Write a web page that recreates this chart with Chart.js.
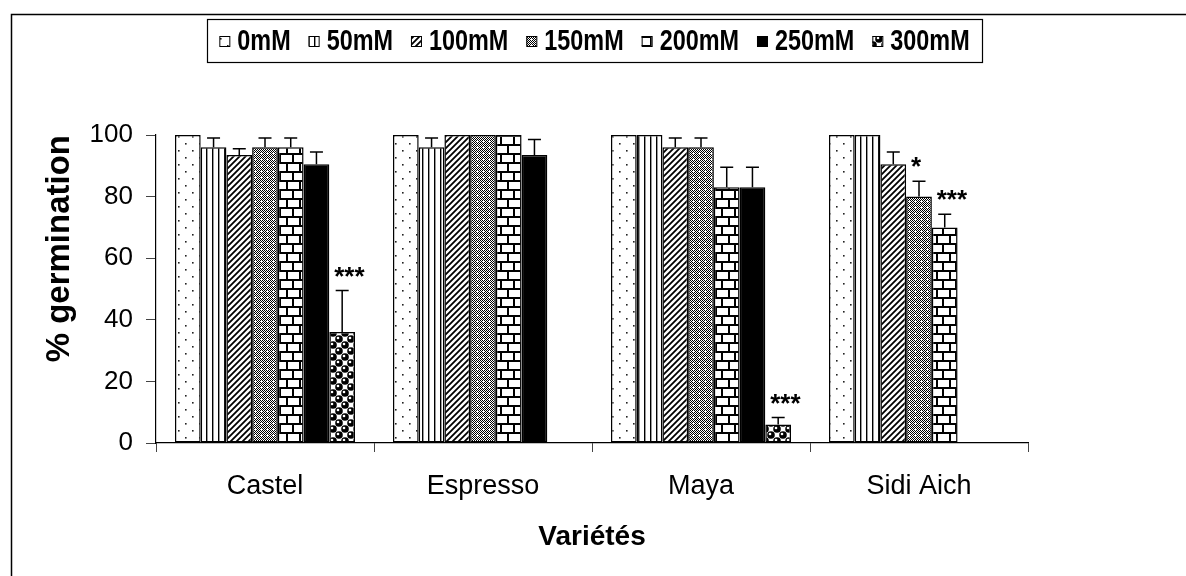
<!DOCTYPE html>
<html>
<head>
<meta charset="utf-8">
<script src="https://cdn.jsdelivr.net/npm/chart.js@4.4.0/dist/chart.umd.min.js"></script>
<style>
  html, body { margin: 0; padding: 0; background: #fff; }
</style>
</head>
<body>
<canvas id="grafico" width="1186" height="576"></canvas>
<script>
const varietes = ['Castel', 'Espresso', 'Maya', 'Sidi Aich'];
const doses = ['0mM', '50mM', '100mM', '150mM', '200mM', '250mM', '300mM'];

// % germination par dose (une valeur par variété)
const g0 = [100, 100, 100, 100];
const g50 = [96, 96, 100, 100];
const g100 = [93.5, 100, 96, 90.5];
const g150 = [96, 100, 96, 80];
const g200 = [96, 100, 83, 70];
const g250 = [90.5, 93.5, 83, 0];
const g300 = [36, 0, 6, 0];

// erreurs standard
const e0 = [0, 0, 0, 0];
const e50 = [3, 3, 0, 0];
const e100 = [2, 0, 3, 4];
const e150 = [3, 0, 3, 5];
const e200 = [3, 0, 6.5, 4.3];
const e250 = [4, 5, 6.5, 0];
const e300 = [13.5, 0, 2.3, 0];

// significativité
const s0 = ['', '', '', ''];
const s150 = ['', '', '', '*'];
const s200 = ['', '', '', '***'];
const s300 = ['***', '', '***', ''];

const police = '"Liberation Sans", Arial, sans-serif';
Chart.defaults.font.family = police;

function motif(l, h, dessin) {
  const c = document.createElement('canvas');
  c.width = l; c.height = h;
  const x = c.getContext('2d');
  x.fillStyle = '#fff';
  x.fillRect(0, 0, l, h);
  x.fillStyle = '#000';
  x.strokeStyle = '#000';
  dessin(x);
  return x.createPattern(c, 'repeat');
}

const points = motif(14, 14, x => {
  x.fillStyle = '#222';
  x.fillRect(3, 3, 1.6, 1.6);
  x.fillRect(10, 10, 1.6, 1.6);
});
const verticales = motif(6, 4, x => x.fillRect(2, 0, 1.4, 4));
const diagonales = motif(6, 6, x => {
  x.lineWidth = 1.8;
  x.beginPath();
  x.moveTo(-1, 7); x.lineTo(7, -1);
  x.moveTo(-1, 1); x.lineTo(1, -1);
  x.moveTo(5, 7); x.lineTo(7, 5);
  x.stroke();
});
const quadrille = motif(6, 6, x => {
  for (let i = 0; i < 6; i++) {
    for (let j = 0; j < 6; j++) {
      if ((i + j) % 2 === 0) x.fillRect(i, j, 1, 1);
    }
  }
  x.fillStyle = '#fff';
  x.fillRect(2, 3, 3, 1);
  x.fillRect(3, 2, 1, 3);
});
const briques = motif(26, 18, x => {
  x.fillRect(0, 0, 26, 2);
  x.fillRect(0, 9, 26, 2);
  x.fillRect(0, 0, 2, 9);
  x.fillRect(13, 0, 2, 9);
  x.fillRect(6, 9, 2, 9);
  x.fillRect(19, 9, 2, 9);
});
const billes = motif(12, 12, x => {
  [[3, 3], [9, 9], [15, 3], [-3, 9], [3, 15], [9, -3]].forEach(([a, b]) => {
    x.fillStyle = '#000';
    x.beginPath(); x.arc(a, b, 3.8, 0, Math.PI * 2); x.fill();
    x.fillStyle = '#fff';
    x.beginPath(); x.arc(a - 1, b - 1, 1.3, 0, Math.PI * 2); x.fill();
  });
});

const valeurs = [g0, g50, g100, g150, g200, g250, g300];
const erreurs = [e0, e50, e100, e150, e200, e250, e300];
const signifs = [s0, s0, s0, s150, s200, s0, s300];
const fonds = [points, verticales, diagonales, quadrille, briques, '#000', billes];

const cadreExterieur = {
  id: 'cadreExterieur',
  beforeDraw(chart) {
    const ctx = chart.ctx;
    ctx.save();
    ctx.fillStyle = '#fff';
    ctx.fillRect(0, 0, chart.width, chart.height);
    ctx.strokeStyle = '#000';
    ctx.lineWidth = 1.5;
    ctx.strokeRect(11.5, 14.5, chart.width, chart.height);
    ctx.restore();
  }
};

const barresErreur = {
  id: 'barresErreur',
  afterDatasetsDraw(chart) {
    const ctx = chart.ctx;
    const y = chart.scales.y;
    ctx.save();
    ctx.strokeStyle = '#000';
    ctx.lineWidth = 1.5;
    ctx.fillStyle = '#000';
    ctx.font = 'bold 26px ' + police;
    ctx.textAlign = 'left';
    ctx.textBaseline = 'middle';
    chart.data.datasets.forEach((ds, i) => {
      chart.getDatasetMeta(i).data.forEach((barre, j) => {
        const err = ds.erreurs[j];
        const haut = y.getPixelForValue(ds.data[j] + err);
        if (err) {
          ctx.beginPath();
          ctx.moveTo(barre.x, barre.y);
          ctx.lineTo(barre.x, haut);
          ctx.moveTo(barre.x - 6.5, haut);
          ctx.lineTo(barre.x + 6.5, haut);
          ctx.stroke();
        }
        if (ds.signifs[j]) ctx.fillText(ds.signifs[j], barre.x - 8, haut - 13);
      });
    });
    ctx.restore();
  }
};

const legendeCadre = {
  id: 'legendeCadre',
  afterDraw(chart) {
    const ctx = chart.ctx;
    const sets = chart.data.datasets;
    const echelle = 0.78, boite = 10, ecart = 8, espace = 18;
    ctx.save();
    ctx.font = 'bold 30px ' + police;
    const largeurs = sets.map(d => ctx.measureText(d.label).width * echelle);
    const total = largeurs.reduce((a, w) => a + boite + ecart + w, 0) + espace * (sets.length - 1);
    const cx = 594.5, cy = 41;
    ctx.strokeStyle = '#000';
    ctx.lineWidth = 1.2;
    ctx.strokeRect(207.5, 19.5, 775, 43);
    let x = cx - total / 2;
    sets.forEach((d, i) => {
      ctx.fillStyle = d.backgroundColor;
      ctx.fillRect(x, cy - boite / 2, boite, boite);
      ctx.lineWidth = 1;
      ctx.strokeRect(x + 0.5, cy - boite / 2 + 0.5, boite, boite);
      x += boite + ecart;
      ctx.save();
      ctx.translate(x, cy);
      ctx.scale(echelle, 1);
      ctx.fillStyle = '#000';
      ctx.textBaseline = 'middle';
      ctx.fillText(d.label, 0, 1);
      ctx.restore();
      x += largeurs[i] + espace;
    });
    ctx.restore();
  }
};

new Chart(document.getElementById('grafico'), {
  type: 'bar',
  data: {
    labels: varietes,
    datasets: doses.map((dose, i) => ({
      label: dose,
      data: valeurs[i],
      erreurs: erreurs[i],
      signifs: signifs[i],
      backgroundColor: fonds[i],
      borderColor: '#000',
      borderWidth: 1.5,
      borderSkipped: false,
      categoryPercentage: 0.826,
      barPercentage: 1
    }))
  },
  options: {
    responsive: false,
    animation: false,
    layout: { padding: { left: 0, right: 158, top: 135, bottom: 0 } },
    plugins: { legend: { display: false }, tooltip: { enabled: false } },
    scales: {
      x: {
        grid: { display: true, offset: true, drawOnChartArea: false, tickLength: 9, color: '#444' },
        border: { color: '#000', width: 1.2 },
        ticks: { font: { size: 27 }, color: '#000', padding: 18 },
        title: { display: true, text: 'Variétés', color: '#000', font: { size: 28, weight: 'bold' }, padding: { top: 0, bottom: 22 } },
        afterFit(s) { s.height = 133; }
      },
      y: {
        min: 0,
        max: 100,
        ticks: { stepSize: 20, font: { size: 26 }, color: '#000', padding: 13 },
        grid: { drawOnChartArea: false, tickLength: 10, color: '#444' },
        border: { color: '#000', width: 1.2 },
        title: { display: true, text: '% germination', align: 'end', color: '#000', font: { size: 33, weight: 'bold' }, padding: { top: 40, bottom: 0 } },
        afterFit(s) { s.width = 156; }
      }
    }
  },
  plugins: [cadreExterieur, barresErreur, legendeCadre]
});
</script>
</body>
</html>
